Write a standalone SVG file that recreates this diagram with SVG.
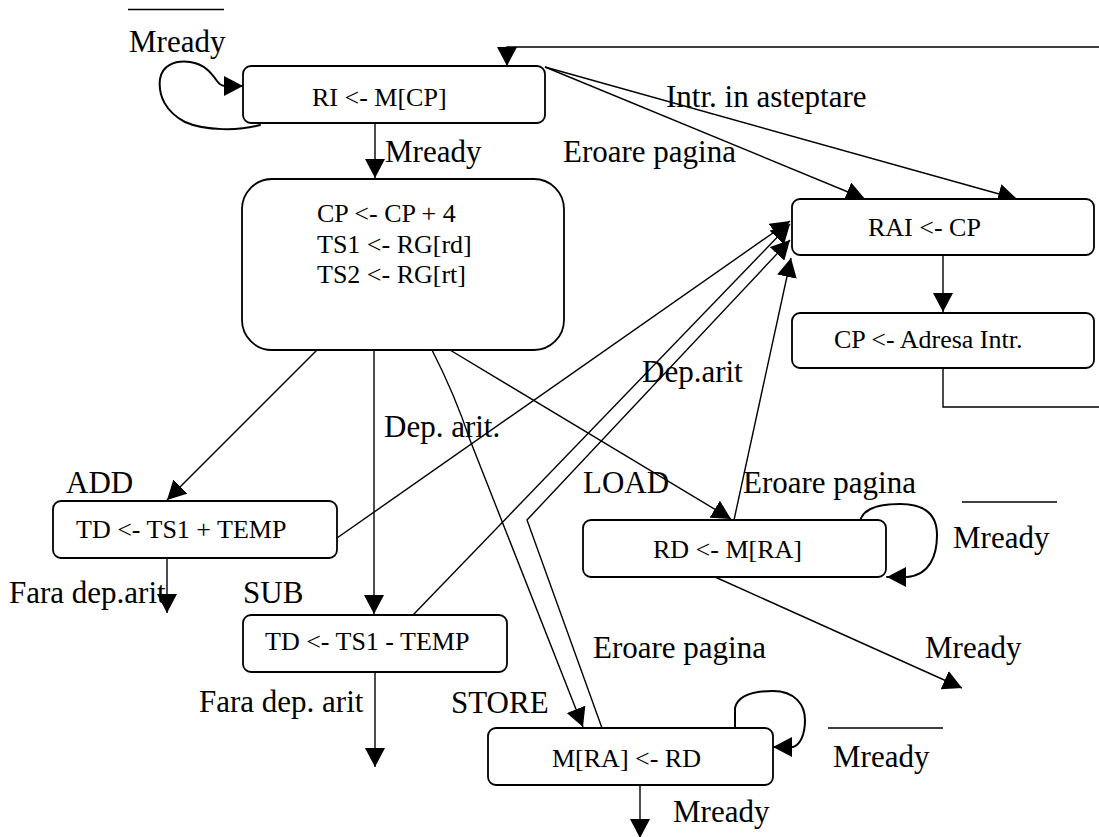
<svg xmlns="http://www.w3.org/2000/svg" width="1099" height="837" viewBox="0 0 1099 837">
<style>
  text { font-family: "Liberation Serif", "Times New Roman", serif; fill: #000; }
  .nt { font-size: 26px; }
  .lbl { font-size: 31px; }
  .box { fill: #fff; stroke: #000; stroke-width: 1.8; }
  .ln { fill: none; stroke: #000; stroke-width: 1.4; }
  .hand { fill: none; stroke: #000; stroke-width: 2; stroke-linejoin: round; stroke-linecap: round; }
  .bar { stroke: #000; stroke-width: 1.6; }
</style>
<defs>
  <marker id="ah" markerUnits="userSpaceOnUse" markerWidth="20" markerHeight="20" refX="19" refY="10" orient="auto" viewBox="0 0 20 20">
    <path d="M0,0 L19,10 L0,20 z" fill="#000"/>
  </marker>
</defs>

<rect width="1099" height="837" fill="#fff"/>

<g id="connectors">
  <path class="ln" d="M943,368 L943,407 L1099,407"/>
  <path class="ln" d="M1099,47 L507,47 L507,66" marker-end="url(#ah)"/>
  <path class="hand" d="M260,125 C240,131 205,131 185,122 C166,112 158,96 160,79 C162,66 174,60 190,62 C205,64 212,74 217,81 C220,85 222,86 225,86 L243,86" marker-end="url(#ah)"/>
  <path class="ln" d="M375,123 L375,178" marker-end="url(#ah)"/>
  <path class="ln" d="M545,67 L865,199" marker-end="url(#ah)"/>
  <path class="ln" d="M545,67 L1017,199" marker-end="url(#ah)"/>
  <path class="ln" d="M943,255 L943,312" marker-end="url(#ah)"/>
  <path class="ln" d="M317,350 L167,500" marker-end="url(#ah)"/>
  <path class="ln" d="M374,350 L374,614" marker-end="url(#ah)"/>
  <path class="ln" d="M432,350 Q455,395 470,440 L583,727" marker-end="url(#ah)"/>
  <path class="ln" d="M450,350 L731,519" marker-end="url(#ah)"/>
  <path class="ln" d="M337,538 L790,221" marker-end="url(#ah)"/>
  <path class="ln" d="M413,615 L790,224" marker-end="url(#ah)"/>
  <path class="ln" d="M602,728 L527,520 L790,240" marker-end="url(#ah)"/>
  <path class="ln" d="M734,520 L791,258" marker-end="url(#ah)"/>
  <path class="ln" d="M167,558 L167,613" marker-end="url(#ah)"/>
  <path class="ln" d="M375,672 L375,767" marker-end="url(#ah)"/>
  <path class="ln" d="M715,577 L962,688" marker-end="url(#ah)"/>
  <path class="hand" d="M860,522 C862,510 875,504 900,504 C925,504 937,515 937,535 C937,555 930,575 907,577 L887,577" marker-end="url(#ah)"/>
  <path class="hand" d="M735,728 L735,708 C738,695 755,691 773,691 C795,691 805,705 805,720 C805,735 800,745 793,747 L773,747" marker-end="url(#ah)"/>
  <path class="ln" d="M640,785 L640,838" marker-end="url(#ah)"/>
</g>

<g id="n-ri">
  <rect class="box" x="243" y="66" width="302" height="57" rx="8"/>
  <text class="nt" x="312" y="106">RI &lt;- M[CP]</text>
</g>
<g id="n-cp">
  <rect class="box" x="242" y="179" width="322" height="171" rx="30"/>
  <text class="nt" x="317" y="222">CP &lt;- CP + 4</text>
  <text class="nt" x="317" y="253">TS1 &lt;- RG[rd]</text>
  <text class="nt" x="317" y="283">TS2 &lt;- RG[rt]</text>
</g>
<g id="n-rai">
  <rect class="box" x="792" y="199" width="302" height="56" rx="8"/>
  <text class="nt" x="868" y="236">RAI &lt;- CP</text>
</g>
<g id="n-adr">
  <rect class="box" x="792" y="313" width="302" height="55" rx="8"/>
  <text class="nt" x="834" y="348">CP &lt;- Adresa Intr.</text>
</g>
<g id="n-add">
  <rect class="box" x="53" y="501" width="284" height="57" rx="8"/>
  <text class="nt" x="76" y="538">TD &lt;- TS1 + TEMP</text>
</g>
<g id="n-sub">
  <rect class="box" x="243" y="615" width="264" height="57" rx="8"/>
  <text class="nt" x="265" y="650">TD &lt;- TS1 - TEMP</text>
</g>
<g id="n-load">
  <rect class="box" x="583" y="520" width="303" height="57" rx="8"/>
  <text class="nt" x="653" y="558">RD &lt;- M[RA]</text>
</g>
<g id="n-store">
  <rect class="box" x="488" y="728" width="285" height="57" rx="8"/>
  <text class="nt" x="552" y="767">M[RA] &lt;- RD</text>
</g>

<g id="labels">
  <line class="bar" x1="128" y1="9.5" x2="224" y2="9.5"/>
  <text class="lbl" x="129" y="52">Mready</text>
  <text class="lbl" x="385" y="162">Mready</text>
  <text class="lbl" x="666" y="107">Intr. in asteptare</text>
  <text class="lbl" x="563" y="162">Eroare pagina</text>
  <text class="lbl" x="642" y="382">Dep.arit</text>
  <text class="lbl" x="384" y="437">Dep. arit.</text>
  <text class="lbl" x="66" y="493">ADD</text>
  <text class="lbl" x="583" y="493">LOAD</text>
  <text class="lbl" x="743" y="493">Eroare pagina</text>
  <line class="bar" x1="962" y1="502" x2="1057" y2="502"/>
  <text class="lbl" x="953" y="548">Mready</text>
  <text class="lbl" x="9" y="603">Fara dep.arit.</text>
  <text class="lbl" x="243" y="603">SUB</text>
  <text class="lbl" x="593" y="658">Eroare pagina</text>
  <text class="lbl" x="925" y="658">Mready</text>
  <text class="lbl" x="199" y="712">Fara dep. arit</text>
  <text class="lbl" x="451" y="713">STORE</text>
  <line class="bar" x1="828" y1="728" x2="943" y2="728"/>
  <text class="lbl" x="833" y="767">Mready</text>
  <text class="lbl" x="673" y="822">Mready</text>
</g>
</svg>
